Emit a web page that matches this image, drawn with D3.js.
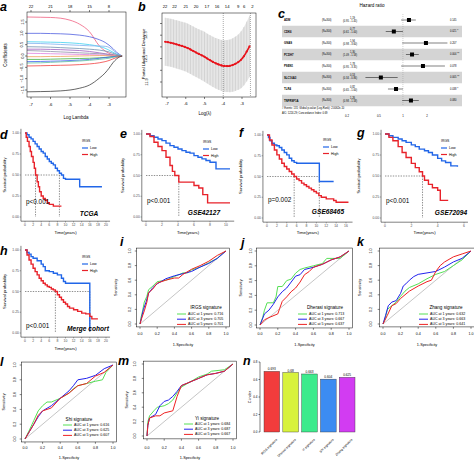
<!DOCTYPE html>
<html><head><meta charset="utf-8">
<script src="https://cdn.jsdelivr.net/npm/d3@7"></script>
<style>body{margin:0;background:#fff}svg{display:block}text{font-family:"Liberation Sans",Arial,sans-serif}</style>
</head><body><svg id="c" width="474" height="461"></svg>
<script>
// ---------------- DATA ----------------
// a: LASSO coefficient paths
const lassoLambda = [-7.2,-6.5,-6,-5.5,-5,-4.5,-4,-3.5,-3.2,-3,-2.8,-2.6,-2.33];
const lassoPaths = [
  [1.72,1.71,1.70,1.67,1.58,1.40,1.07,0.45,0.22,0.12,0.06,0.02,0],
  [1.0,1.0,0.99,0.98,0.96,0.92,0.85,0.72,0.6,0.48,0.33,0.16,0],
  [0.63,0.62,0.61,0.6,0.58,0.55,0.5,0.42,0.34,0.26,0.17,0.08,0],
  [0.56,0.55,0.53,0.51,0.49,0.47,0.45,0.44,0.43,0.38,0.26,0.12,0],
  [0.41,0.40,0.39,0.37,0.35,0.33,0.3,0.26,0.22,0.18,0.12,0.06,0],
  [0.30,0.30,0.29,0.28,0.26,0.24,0.2,0.14,0.1,0.07,0.04,0.02,0],
  [0.24,0.22,0.2,0.18,0.16,0.14,0.12,0.1,0.08,0.06,0.04,0.02,0],
  [0.12,0.11,0.1,0.09,0.08,0.07,0.06,0.05,0.04,0.03,0.02,0.01,0],
  [-0.03,-0.03,-0.02,-0.02,-0.01,0,0.01,0.02,0.02,0.01,0.01,0,0],
  [-0.15,-0.15,-0.14,-0.13,-0.12,-0.11,-0.1,-0.08,-0.06,-0.05,-0.03,-0.01,0],
  [-0.25,-0.24,-0.23,-0.22,-0.2,-0.18,-0.15,-0.1,-0.07,-0.05,-0.03,-0.01,0],
  [-0.31,-0.3,-0.28,-0.26,-0.24,-0.22,-0.19,-0.15,-0.12,-0.1,-0.06,-0.03,0],
  [-0.44,-0.43,-0.42,-0.41,-0.4,-0.38,-0.35,-0.3,-0.25,-0.2,-0.13,-0.06,0],
  [-1.58,-1.57,-1.56,-1.54,-1.5,-1.42,-1.28,-0.98,-0.75,-0.54,-0.3,-0.12,0]
];
const lassoTopLambda = [-7,-6,-5,-4,-3];
const lassoTopLabels = ["22","21","18","15","8"];

// b: cross-validation
const cvLambda = [-7.1,-6.95,-6.8,-6.65,-6.5,-6.35,-6.2,-6.05,-5.9,-5.75,-5.6,-5.45,-5.3,-5.15,-5.0,-4.85,-4.7,-4.55,-4.4,-4.25,-4.1,-3.95,-3.8,-3.65,-3.5,-3.35,-3.2,-3.05,-2.9,-2.75,-2.6];
const cvMean = [12.244,12.240,12.235,12.229,12.222,12.215,12.208,12.200,12.190,12.178,12.165,12.152,12.140,12.128,12.116,12.100,12.086,12.072,12.060,12.050,12.042,12.037,12.036,12.038,12.045,12.056,12.070,12.090,12.120,12.160,12.205];
const cvSE = [0.205,0.205,0.205,0.206,0.206,0.207,0.207,0.208,0.209,0.209,0.21,0.21,0.211,0.212,0.213,0.213,0.214,0.215,0.216,0.217,0.218,0.22,0.222,0.225,0.228,0.232,0.237,0.243,0.25,0.256,0.262];
const cvTopLambda = [-7.1,-6.6,-6.0,-5.45,-4.87,-4.33,-3.79,-3.2,-2.88,-2.45];
const cvTopLabels = ["22","22","21","20","17","16","14","9","6","2"];
const cvSelected = [-4.0,-2.55];

// c: forest plot
const fpGenes = ["ADM","CDK6","GNAS","PCDH7","PSEN1","SLC16A3","TLR4","TNFRSF1A"];
const fpN = ["(N=300)","(N=300)","(N=300)","(N=300)","(N=300)","(N=300)","(N=300)","(N=300)"];
const fpHR = [1.19,0.77,1.94,1.30,1.78,0.53,0.82,1.26];
const fpLo = [0.95,0.61,0.98,1.09,0.95,0.34,0.65,0.98];
const fpHi = [1.45,1.00,3.60,1.58,3.35,0.86,1.00,1.58];
const fpP = ["0.145","0.021 *","0.207","0.004 **","0.078","0.005 **","0.038 *","0.080"];
const fpTicks = [0.2,0.5,1,2];

// d-h: Kaplan-Meier
const kmD = {lowT:[0,0.5,1,1.5,2,2.5,3,3.5,4,4.5,5,5.5,6,6.5,7,7.5,8,8.5,9,9.5,10,13.5,19],
             lowS:[1,0.98,0.95,0.93,0.90,0.87,0.84,0.81,0.78,0.76,0.72,0.69,0.66,0.64,0.62,0.58,0.55,0.52,0.50,0.46,0.45,0.36,0.36],
             highT:[0,0.3,0.6,1,1.3,1.6,2,2.3,2.6,3,3.3,3.6,4,4.5,5,5.5,6,7,9],
             highS:[1,0.95,0.9,0.84,0.78,0.72,0.65,0.58,0.5,0.42,0.36,0.3,0.25,0.22,0.2,0.17,0.15,0.13,0.13]};
const kmE = {lowT:[0,0.5,1,1.5,2,2.5,3,3.5,4,4.5,5,5.5,6,6.5,7,7.5,8,8.75,10.5],
             lowS:[1,0.98,0.96,0.94,0.92,0.89,0.86,0.84,0.82,0.80,0.78,0.77,0.74,0.72,0.70,0.68,0.66,0.58,0.58],
             highT:[0,0.5,1,1.5,2,2.5,3,3.3,3.6,4.1,6.0,6.6,7.1,7.7,10.5],
             highS:[1,0.97,0.9,0.85,0.8,0.72,0.62,0.55,0.5,0.42,0.38,0.35,0.27,0.17,0.17]};
const kmF = {lowT:[0,0.3,0.6,1,1.5,2,2.5,3,3.5,4,4.5,5,5.5,6,10.6,13.5],
             lowS:[1,0.97,0.93,0.9,0.88,0.87,0.85,0.82,0.79,0.76,0.72,0.69,0.67,0.66,0.44,0.44],
             highT:[0,0.5,1,1.5,2,2.5,3,3.5,4,4.5,5,5.5,6,6.5,7,7.5,8,8.5,9,9.5,10,10.5,11,12,13,13.5,14,16.5],
             highS:[1,0.94,0.88,0.82,0.76,0.71,0.66,0.62,0.59,0.56,0.53,0.5,0.47,0.45,0.42,0.4,0.38,0.36,0.34,0.32,0.3,0.27,0.25,0.23,0.23,0.21,0.19,0.19]};
const kmG = {lowT:[0,0.3,0.6,1,1.3,1.6,2,2.3,2.6,3,3.3,3.6,4,4.3,4.6,5,5.5],
             lowS:[1,0.98,0.96,0.94,0.92,0.9,0.87,0.85,0.82,0.8,0.78,0.75,0.71,0.68,0.66,0.62,0.61],
             highT:[0,0.3,0.6,1,1.3,1.6,2,2.3,2.6,2.85,3,3.3,3.6,4,4.2,4.8],
             highS:[1,0.96,0.92,0.85,0.78,0.72,0.65,0.6,0.55,0.5,0.45,0.4,0.36,0.33,0.21,0.21]};
const kmH = {lowT:[0,0.5,1,1.5,2,3,4,4.5,5,6,7,8,9,9.5,10,16],
             lowS:[1,0.97,0.95,0.92,0.9,0.87,0.83,0.8,0.75,0.74,0.72,0.7,0.66,0.62,0.6,0.02],
             highT:[0,0.5,1,1.5,2,2.5,3,3.5,4,4.5,5,5.5,6,6.5,7,7.5,8,8.5,9,9.5,10,10.5,11,12,13,14,15,16,16.5,18],
             highS:[1,0.94,0.88,0.83,0.78,0.74,0.7,0.66,0.63,0.6,0.58,0.56,0.55,0.53,0.52,0.5,0.46,0.43,0.4,0.37,0.35,0.32,0.3,0.28,0.26,0.24,0.23,0.2,0.17,0.17]};
const kmMedians = {d:[2.6,8.5], e:[4.1], f:[5.5,10.6], g:[2.85], h:[7.5,16]};
const kmPvals = {d:"p<0.001", e:"p<0.001", f:"p=0.002", g:"p<0.001", h:"p<0.001"};
const kmCohorts = {d:"TCGA", e:"GSE42127", f:"GSE68465", g:"GSE72094", h:"Merge cohort"};
const kmGroups = ["Low","High"];

// i-m: time-dependent ROC
const rocI = [
 [[0,0],[0.01,0.08],[0.03,0.18],[0.05,0.3],[0.08,0.38],[0.1,0.47],[0.15,0.52],[0.2,0.58],[0.3,0.6],[0.4,0.65],[0.5,0.7],[0.55,0.7],[0.6,0.74],[0.7,0.78],[0.8,0.84],[0.9,0.9],[0.95,0.96],[1,1]],
 [[0,0],[0.02,0.1],[0.04,0.2],[0.07,0.3],[0.1,0.42],[0.15,0.5],[0.2,0.55],[0.3,0.62],[0.4,0.66],[0.5,0.69],[0.6,0.72],[0.7,0.78],[0.8,0.83],[0.9,0.9],[1,1]],
 [[0,0],[0.02,0.08],[0.05,0.18],[0.08,0.3],[0.1,0.43],[0.15,0.48],[0.2,0.56],[0.3,0.6],[0.4,0.63],[0.45,0.63],[0.5,0.68],[0.6,0.75],[0.7,0.8],[0.8,0.86],[0.9,0.94],[1,1]]];
const rocJ = [
 [[0,0],[0.03,0.1],[0.05,0.2],[0.08,0.3],[0.15,0.3],[0.18,0.38],[0.2,0.52],[0.25,0.52],[0.3,0.6],[0.35,0.62],[0.4,0.7],[0.45,0.75],[0.5,0.77],[0.6,0.8],[0.7,0.83],[0.75,0.9],[0.9,0.9],[1,1]],
 [[0,0],[0.05,0.15],[0.1,0.2],[0.15,0.28],[0.2,0.38],[0.25,0.45],[0.3,0.5],[0.35,0.58],[0.4,0.66],[0.45,0.68],[0.5,0.75],[0.6,0.78],[0.7,0.82],[0.8,0.88],[0.9,0.92],[1,1]],
 [[0,0],[0.05,0.07],[0.1,0.1],[0.2,0.15],[0.22,0.22],[0.25,0.32],[0.3,0.38],[0.35,0.45],[0.4,0.5],[0.45,0.58],[0.5,0.68],[0.55,0.72],[0.6,0.78],[0.7,0.82],[0.8,0.88],[0.9,0.92],[1,1]]];
const rocK = [
 [[0,0],[0.03,0.1],[0.05,0.2],[0.1,0.25],[0.15,0.3],[0.2,0.38],[0.25,0.45],[0.3,0.5],[0.4,0.55],[0.5,0.62],[0.6,0.68],[0.7,0.72],[0.8,0.8],[0.9,0.88],[1,1]],
 [[0,0],[0.03,0.12],[0.06,0.25],[0.1,0.3],[0.15,0.32],[0.2,0.42],[0.23,0.52],[0.26,0.55],[0.3,0.6],[0.35,0.65],[0.4,0.68],[0.5,0.7],[0.6,0.72],[0.7,0.78],[0.8,0.85],[0.9,0.9],[1,1]],
 [[0,0],[0.05,0.12],[0.1,0.25],[0.15,0.28],[0.2,0.35],[0.3,0.45],[0.4,0.52],[0.5,0.58],[0.55,0.6],[0.6,0.72],[0.65,0.8],[0.7,0.85],[0.8,0.92],[0.9,0.96],[1,1]]];
const rocL = [
 [[0,0],[0.05,0.12],[0.1,0.25],[0.15,0.38],[0.2,0.45],[0.25,0.5],[0.3,0.5],[0.4,0.55],[0.5,0.62],[0.55,0.68],[0.6,0.72],[0.7,0.75],[0.8,0.78],[0.88,0.8],[0.92,0.9],[1,1]],
 [[0,0],[0.05,0.1],[0.1,0.2],[0.15,0.3],[0.2,0.38],[0.3,0.45],[0.4,0.55],[0.5,0.65],[0.55,0.72],[0.6,0.8],[0.7,0.82],[0.8,0.86],[0.9,0.95],[1,1]],
 [[0,0],[0.05,0.1],[0.1,0.2],[0.15,0.32],[0.2,0.38],[0.3,0.42],[0.4,0.55],[0.5,0.62],[0.6,0.72],[0.7,0.75],[0.8,0.85],[0.9,0.9],[1,1]]];
const rocM = [
 [[0,0],[0.01,0.2],[0.03,0.28],[0.08,0.35],[0.12,0.4],[0.2,0.42],[0.25,0.45],[0.3,0.5],[0.35,0.6],[0.4,0.68],[0.5,0.75],[0.6,0.82],[0.7,0.86],[0.75,0.9],[0.9,0.92],[1,1]],
 [[0,0],[0.01,0.15],[0.03,0.25],[0.1,0.3],[0.15,0.42],[0.2,0.48],[0.25,0.5],[0.3,0.55],[0.35,0.62],[0.4,0.7],[0.5,0.75],[0.6,0.8],[0.7,0.85],[0.8,0.87],[0.9,0.9],[1,1]],
 [[0,0],[0.01,0.15],[0.03,0.25],[0.1,0.28],[0.15,0.28],[0.2,0.32],[0.3,0.35],[0.35,0.55],[0.4,0.7],[0.5,0.75],[0.6,0.8],[0.7,0.85],[0.8,0.87],[0.9,0.9],[1,1]]];
const rocYears = [1,3,5];
const rocTitles = {i:"IRGS signature", j:"Dherasi signature", k:"Zhang signature", l:"Shi signature", m:"Yi signature"};
const rocAUC = {i:["0.716","0.705","0.701"], j:["0.713","0.667","0.637"], k:["0.632","0.663","0.641"], l:["0.616","0.625","0.607"], m:["0.684","0.687","0.667"]};
const rocTicks = [0,0.2,0.4,0.6,0.8,1.0];

// n: C-index bars
const cNames = ["IRGS signature","Dheresi signature","Yi signature","Shi signature","Zhang signature"];
const cValues = [0.693,0.68,0.663,0.604,0.625];
const cLabels = ["0.693","0.68","0.663","0.604","0.625"];
const cTicks = [0,0.2,0.4,0.6,0.8];

// ---------------- DRAWING ----------------
const svg = d3.select("#c");
svg.append("rect").attr("width",474).attr("height",461).attr("fill","#fff");
const defs = svg.append("defs");

function T(g,x,y,s,o={}){
  const t=g.append("text").attr("x",x).attr("y",y).text(s)
    .attr("font-size",o.size||4).attr("fill",o.fill||"#000")
    .attr("text-anchor",o.anchor||"start").attr("dominant-baseline",o.base||"central");
  if(o.rotate!==undefined) t.attr("transform",`rotate(${o.rotate},${x},${y})`);
  if(o.weight) t.attr("font-weight",o.weight);
  if(o.style) t.attr("font-style",o.style);
  if(o.family) t.attr("font-family",o.family);
  return t;
}
function L(g,x1,y1,x2,y2,stroke="#000",w=0.5,dash=null){
  const l=g.append("line").attr("x1",x1).attr("y1",y1).attr("x2",x2).attr("y2",y2).attr("stroke",stroke).attr("stroke-width",w);
  if(dash) l.attr("stroke-dasharray",dash);
  return l;
}

// ---- panel letters ----
const letterPos = [["a",0,11],["b",138,11],["c",278,18],["d",0,139],["e",120,138],["f",239,137],["g",357,137],
  ["h",0,255],["i",120,246],["j",241,247],["k",357,246],["l",0,366],["m",118,365],["n",243,365]];
letterPos.forEach(([s,x,y])=>T(svg,x,y,s,{size:12.5,weight:"bold",style:"italic",family:"Liberation Serif",base:"alphabetic"}));

// ---- a: lasso paths ----
(function(){
  const g=svg.append("g");
  const x=d3.scaleLinear([-7,-3],[31,109]), y=d3.scaleLinear([-1.5,1.5],[90,22]);
  const bx0=27,bx1=126,by0=12,by1=97;
  const cols=["#F06080","#5060E0","#40D0F0","#80B0F0","#7090B0","#A060C0","#9090A8","#E080E0","#F0A060","#40B040","#4060F0","#60C0A0","#F04040","#404040"];
  const line=d3.line().x((d,i)=>x(lassoLambda[i])).y(d=>y(d)).curve(d3.curveMonotoneX);
  lassoPaths.forEach((p,k)=>g.append("path").attr("d",line(p)).attr("fill","none").attr("stroke",cols[k]).attr("stroke-width",0.8));
  g.append("rect").attr("x",bx0).attr("y",by0).attr("width",bx1-bx0).attr("height",by1-by0).attr("fill","none").attr("stroke","#000").attr("stroke-width",0.5);
  [-1.5,-1,-0.5,0,0.5,1,1.5].forEach(v=>{L(g,bx0-2,y(v),bx0,y(v));T(g,bx0-5,y(v),v===0?"0.0":d3.format(".1f")(v),{size:4,anchor:"middle",rotate:-90});});
  [-7,-6,-5,-4,-3].forEach(v=>{L(g,x(v),by1,x(v),by1+2);T(g,x(v),by1+7,String(v),{size:4.2,anchor:"middle"});});
  lassoTopLambda.forEach((v,i)=>{L(g,x(v),by0,x(v),by0-2);T(g,x(v),6,lassoTopLabels[i],{size:4.2,anchor:"middle"});});
  T(g,5,55,"Coefficients",{size:4.5,anchor:"middle",rotate:-90});
  T(g,76,117,"Log Lambda",{size:4.5,anchor:"middle"});
})();

// ---- b: CV curve ----
(function(){
  const g=svg.append("g");
  const x=d3.scaleLinear([-7,-3],[167,242]), y=d3.scaleLinear([11.9,12.4],[82,23.5]);
  const bx0=162,bx1=256,by0=13,by1=97;
  defs.append("clipPath").attr("id","clipB").append("rect").attr("x",bx0).attr("y",by0).attr("width",bx1-bx0).attr("height",by1-by0);
  const cg=g.append("g").attr("clip-path","url(#clipB)");
  const area=d3.area().x((d,i)=>x(cvLambda[i])).y0((d,i)=>y(d-cvSE[i])).y1((d,i)=>y(d+cvSE[i])).curve(d3.curveMonotoneX);
  cg.append("path").attr("d",area(cvMean)).attr("fill","#e6e6e6");
  cvMean.forEach((m,i)=>L(cg,x(cvLambda[i]),y(m-cvSE[i]),x(cvLambda[i]),y(m+cvSE[i]),"#bdbdbd",0.45));
  cvSelected.forEach(v=>L(cg,x(v),by0,x(v),by1,"#555",0.5,"1,1"));
  const ml=d3.line().x((d,i)=>x(cvLambda[i])).y(d=>y(d)).curve(d3.curveMonotoneX);
  cg.append("path").attr("d",ml(cvMean)).attr("fill","none").attr("stroke","#e8141c").attr("stroke-width",1.6);
  cvMean.forEach((m,i)=>cg.append("circle").attr("cx",x(cvLambda[i])).attr("cy",y(m)).attr("r",1.1).attr("fill","#e8141c"));
  g.append("rect").attr("x",bx0).attr("y",by0).attr("width",bx1-bx0).attr("height",by1-by0).attr("fill","none").attr("stroke","#000").attr("stroke-width",0.5);
  [11.9,12.0,12.1,12.2,12.3,12.4].forEach(v=>{L(g,bx0-2,y(v),bx0,y(v));});
  [11.9,12.1,12.3].forEach(v=>T(g,bx0-16,y(v),d3.format(".1f")(v),{size:4,anchor:"middle",rotate:-90}));
  [-7,-6,-5,-4,-3].forEach(v=>{L(g,x(v),by1,x(v),by1+2);T(g,x(v),by1+6,String(v),{size:4.2,anchor:"middle"});});
  cvTopLambda.forEach((v,i)=>T(g,x(v),6,cvTopLabels[i],{size:4.2,anchor:"middle"}));
  T(g,143,54,"Partial Likelihood Deviance",{size:4.2,anchor:"middle",rotate:-90});
  T(g,205,113,"Log(\u03BB)",{size:4.5,anchor:"middle"});
})();

// ---- c: forest plot ----
(function(){
  const g=svg.append("g");
  const x=d3.scaleLog([0.2,2],[347,427]);
  const rowY=i=>20+i*11.5;
  fpGenes.forEach((gn,i)=>{ if(i%2===1) g.append("rect").attr("x",282).attr("y",rowY(i)-5.75).attr("width",180).attr("height",11.5).attr("fill","#d4d4d4"); });
  L(g,x(1),14,x(1),106,"#888",0.4,"1,1");
  T(g,372,5,"Hazard ratio",{size:4.6,anchor:"middle"});
  fpGenes.forEach((gn,i)=>{
    const cy=rowY(i);
    T(g,284,cy,gn,{size:2.8,weight:"bold"});
    T(g,322,cy,fpN[i],{size:2.6});
    T(g,350,cy-2,fpHR[i].toFixed(2),{size:2.6});
    T(g,343,cy+1.2,`(${fpLo[i].toFixed(2)} - ${fpHi[i].toFixed(2)})`,{size:2.6});
    T(g,450,cy,fpP[i],{size:2.6});
    L(g,x(fpLo[i]),cy,x(fpHi[i]),cy,"#000",0.5);
    g.append("rect").attr("x",x(fpHR[i])-2).attr("y",cy-2).attr("width",4).attr("height",4).attr("fill","#000");
  });
  T(g,282,108.5,"# Events: 131; Global p-value (Log-Rank): 2.0062e-10",{size:2.6});
  T(g,282,113,"AIC: 1224.29; Concordance Index: 0.69",{size:2.6});
  fpTicks.forEach(v=>T(g,x(v),116,String(v),{size:2.8,anchor:"middle"}));
})();

// ---- d-h: Kaplan-Meier ----
const kmLayout = [
  {k:"d",data:kmD,tickMax:20,step:2,xmax:20,px:[25,106],py:[217,133],lab:[82,141],p:[26,201],coh:[89,213],sensX:4,tickY:225,titleY:232},
  {k:"e",data:kmE,tickMax:10,step:2,xmax:10.5,px:[146,226],py:[217,134],lab:[203,142],p:[147,200],coh:[204,212],sensX:122,tickY:225,titleY:232},
  {k:"f",data:kmF,tickMax:16,step:2,xmax:16.5,px:[267,346],py:[218,135],lab:[323,140],p:[268,199],coh:[328,211],sensX:240,tickY:226,titleY:232},
  {k:"g",data:kmG,tickMax:6,step:2,xmax:6,px:[385,464],py:[218,134],lab:[441,141],p:[386,200],coh:[451,212],sensX:358,tickY:226,titleY:232},
  {k:"h",data:kmH,tickMax:20,step:2,xmax:20,px:[25,106],py:[333,250],lab:[82,257],p:[26,325],coh:[88,328],sensX:4,tickY:341,titleY:348}
];
const kmCol = {Low:"#2166e8", High:"#e8222a"};
kmLayout.forEach(c=>{
  const g=svg.append("g");
  const x=d3.scaleLinear([0,c.tickMax],c.px), y=d3.scaleLinear([0,1],c.py);
  const left=x(-0.05*c.xmax), right=x(c.xmax*1.05), top=y(1.05), bottom=y(-0.05);
  const med=kmMedians[c.k];
  L(g,x(0),y(0.5),x(d3.max(med)),y(0.5),"#333",0.55,"1.4,1.2");
  med.forEach(m=>L(g,x(m),y(0.5),x(m),y(0),"#333",0.55,"1.4,1.2"));
  const line=(T_,S_)=>d3.line().x((d,i)=>x(T_[i])).y(d=>y(d)).curve(d3.curveStepAfter)(S_);
  g.append("path").attr("d",line(c.data.lowT,c.data.lowS)).attr("fill","none").attr("stroke",kmCol.Low).attr("stroke-width",1.4);
  g.append("path").attr("d",line(c.data.highT,c.data.highS)).attr("fill","none").attr("stroke",kmCol.High).attr("stroke-width",1.4);
  L(g,left,top,left,bottom,"#000",0.5);
  L(g,left,bottom,right,bottom,"#000",0.5);
  [0,0.25,0.5,0.75,1].forEach(v=>{L(g,left-1.3,y(v),left,y(v),"#333",0.4);T(g,left-2,y(v),d3.format(".2f")(v),{size:3.4,anchor:"end",fill:"#4d4d4d"});});
  d3.range(0,c.tickMax+0.01,c.step).forEach(v=>{L(g,x(v),bottom,x(v),bottom+1.3,"#333",0.4);T(g,x(v),c.tickY,String(v),{size:3.4,anchor:"middle",fill:"#4d4d4d"});});
  T(g,(left+right)/2,c.titleY,"Time(years)",{size:4.2,anchor:"middle"});
  T(g,c.sensX,(top+bottom)/2,"Survival probability",{size:4.2,anchor:"middle",rotate:-90});
  T(g,c.lab[0],c.lab[1],"IRGS",{size:3.4});
  kmGroups.forEach((gr,i)=>{const yy=c.lab[1]+7+i*6.5;L(g,c.lab[0],yy,c.lab[0]+6,yy,kmCol[gr],1.2);T(g,c.lab[0]+8,yy,gr,{size:3.6});});
  T(g,c.p[0],c.p[1],kmPvals[c.k],{size:6.4});
  T(g,c.coh[0],c.coh[1],kmCohorts[c.k],{size:6.6,anchor:"middle",weight:"bold",style:"italic",family:"Liberation Serif"});
});

// ---- i-m: ROC ----
const rocLayout = [
  {k:"i",data:rocI,px:[140,226],py:[324,251],leg:[177,314],titleX:206,titleY:307,tickLabX:130,sensX:116,xTickY:334,specY:345},
  {k:"j",data:rocJ,px:[260,349],py:[325,251],leg:[298,314],titleX:325,titleY:307,tickLabX:251,sensX:241,xTickY:334,specY:345},
  {k:"k",data:rocK,px:[383,471],py:[324,251],leg:[419,314],titleX:446,titleY:307,tickLabX:371,sensX:360,xTickY:334,specY:345},
  {k:"l",data:rocL,px:[25,113],py:[439,365],leg:[63,425],titleX:79,titleY:419,tickLabX:15,sensX:4,xTickY:448,specY:458},
  {k:"m",data:rocM,px:[147,233],py:[436,364],leg:[184,424],titleX:207,titleY:418,tickLabX:135,sensX:127,xTickY:448,specY:458}
];
const rocCols=["#55e055","#2222ee","#ee2222"];
rocLayout.forEach(c=>{
  const g=svg.append("g");
  const x=d3.scaleLinear([0,1],c.px), y=d3.scaleLinear([0,1],c.py);
  const bx0=x(-0.04),bx1=x(1.04),by0=y(1.04),by1=y(-0.04);
  L(g,x(0),y(0),x(1),y(1),"#8a8a8a",0.5);
  const line=d3.line().x(d=>x(d[0])).y(d=>y(d[1]));
  c.data.forEach((cv,i)=>g.append("path").attr("d",line(cv)).attr("fill","none").attr("stroke",rocCols[i]).attr("stroke-width",1.0));
  g.append("rect").attr("x",bx0).attr("y",by0).attr("width",bx1-bx0).attr("height",by1-by0).attr("fill","none").attr("stroke","#000").attr("stroke-width",0.5);
  rocTicks.forEach(v=>{
    L(g,x(v),by1,x(v),by1+1.8);T(g,x(v),c.xTickY,d3.format(".1f")(v),{size:3.6,anchor:"middle"});
    L(g,bx0-1.8,y(v),bx0,y(v));T(g,c.tickLabX,y(v),d3.format(".1f")(v),{size:3.6,anchor:"middle",rotate:-90});
  });
  T(g,(bx0+bx1)/2,c.specY,"1-Specificity",{size:3.8,anchor:"middle"});
  T(g,c.sensX,(by0+by1)/2,"Sensitivity",{size:3.8,anchor:"middle",rotate:-90});
  T(g,c.titleX,c.titleY,rocTitles[c.k],{size:4.6,anchor:"middle"});
  rocYears.forEach((yr,i)=>{const yy=c.leg[1]+i*5.2;L(g,c.leg[0],yy,c.leg[0]+9,yy,rocCols[i],1.0);T(g,c.leg[0]+11,yy,`AUC at ${yr} years: ${rocAUC[c.k][i]}`,{size:3.6});});
});

// ---- n: C-index bars ----
(function(){
  const g=svg.append("g");
  const x=d3.scaleBand(cNames,[264,355]).paddingInner(0.1667).paddingOuter(0);
  const y=d3.scaleLinear([0,0.8],[432,362]);
  const cols=["#f23c3c","#d8f23c","#3ceb8c","#3c8cf2","#d23cf2"];
  cNames.forEach((n,i)=>{
    g.append("rect").attr("x",x(n)).attr("y",y(cValues[i])).attr("width",x.bandwidth()).attr("height",y(0)-y(cValues[i])).attr("fill",cols[i]).attr("stroke","#333").attr("stroke-width",0.4);
    T(g,x(n)+x.bandwidth()/2,y(cValues[i])-2,cLabels[i],{size:3.2,anchor:"middle"});
    const cx=x(n)+x.bandwidth()/2+5, cy=439;
    T(g,cx,cy,n,{size:3.2,anchor:"end",rotate:-45});
  });
  L(g,260,y(0),260,y(0.8));
  cTicks.forEach(v=>{L(g,258.5,y(v),260,y(v));T(g,257.5,y(v),d3.format(".1f")(v),{size:3,anchor:"end"});});
  T(g,250,y(0.4),"C-index",{size:3.6,anchor:"middle",rotate:-90});
})();
</script></body></html>
